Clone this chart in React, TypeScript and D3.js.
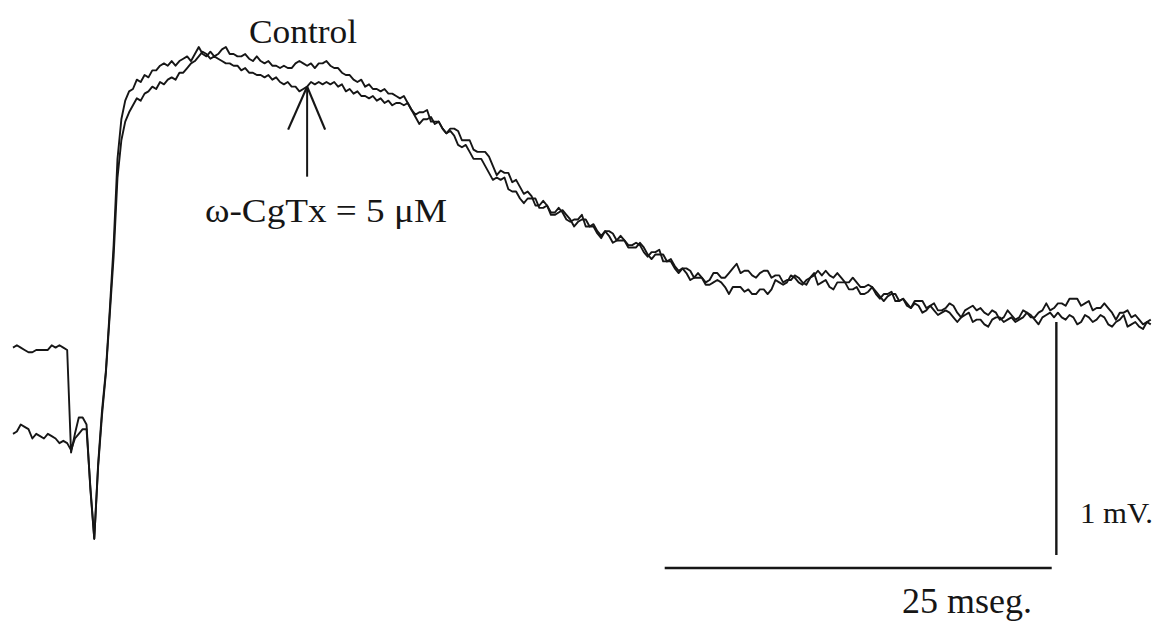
import React from "react";
import * as d3 from "d3";

// Sampling interval of the recorded traces (ms)
const SAMPLE_MS = 0.25;

// Control trace (mV), one value every SAMPLE_MS
const controlMV = [
  0.89,0.90,0.89,0.88,0.87,0.87,0.88,0.88,0.88,0.88,
  0.90,0.89,0.90,0.89,0.88,0.44,0.52,0.59,0.59,0.56,
  0.28,0.07,0.39,0.62,0.79,1.05,1.33,1.70,1.87,1.95,
  1.99,2.00,2.04,2.03,2.06,2.05,2.08,2.08,2.10,2.11,
  2.10,2.12,2.10,2.12,2.13,2.14,2.12,2.15,2.18,2.15,
  2.14,2.16,2.14,2.15,2.17,2.18,2.15,2.15,2.14,2.14,
  2.15,2.13,2.12,2.14,2.12,2.11,2.12,2.10,2.10,2.09,
  2.10,2.09,2.09,2.11,2.12,2.11,2.10,2.11,2.09,2.11,
  2.11,2.12,2.10,2.09,2.09,2.07,2.06,2.06,2.04,2.03,
  2.04,2.01,2.02,2.00,2.00,1.99,2.00,1.98,1.98,1.97,
  1.96,1.97,1.94,1.91,1.89,1.90,1.90,1.91,1.86,1.86,
  1.86,1.83,1.81,1.83,1.83,1.82,1.78,1.78,1.78,1.74,
  1.73,1.73,1.73,1.71,1.67,1.63,1.65,1.64,1.64,1.60,
  1.61,1.58,1.55,1.56,1.54,1.50,1.50,1.52,1.50,1.47,
  1.47,1.49,1.47,1.44,1.43,1.44,1.44,1.46,1.41,1.41,
  1.41,1.38,1.36,1.39,1.39,1.38,1.35,1.35,1.35,1.32,
  1.32,1.32,1.34,1.32,1.29,1.27,1.29,1.29,1.29,1.26,
  1.27,1.24,1.22,1.23,1.21,1.18,1.19,1.21,1.19,1.17,
  1.18,1.21,1.21,1.19,1.19,1.21,1.23,1.25,1.21,1.22,
  1.22,1.20,1.19,1.21,1.22,1.22,1.19,1.20,1.20,1.17,
  1.18,1.18,1.20,1.19,1.17,1.16,1.19,1.20,1.22,1.20,
  1.22,1.20,1.19,1.21,1.19,1.17,1.17,1.19,1.17,1.15,
  1.15,1.16,1.15,1.12,1.10,1.12,1.12,1.13,1.09,1.09,
  1.10,1.07,1.06,1.09,1.09,1.09,1.06,1.07,1.08,1.05,
  1.05,1.06,1.08,1.07,1.04,1.02,1.05,1.06,1.07,1.05,
  1.06,1.04,1.03,1.05,1.04,1.01,1.02,1.05,1.03,1.01,
  1.02,1.05,1.04,1.02,1.02,1.04,1.05,1.08,1.05,1.06,
  1.08,1.08,1.07,1.10,1.10,1.10,1.07,1.08,1.09,1.05,
  1.06,1.06,1.08,1.06,1.04,1.01,1.04,1.04,1.05,1.02,
  1.03,1.01,0.99,1.00,0.99,
];

// ω-CgTx = 5 µM trace (mV)
const toxinMV = [
  0.52,0.53,0.56,0.55,0.54,0.50,0.52,0.51,0.50,0.52,
  0.51,0.50,0.48,0.49,0.48,0.45,0.50,0.52,0.54,0.54,
  0.29,0.07,0.38,0.60,0.78,1.03,1.28,1.62,1.78,1.86,
  1.90,1.93,1.96,1.95,1.98,1.99,2.01,2.00,2.03,2.02,
  2.04,2.05,2.04,2.07,2.07,2.09,2.11,2.12,2.14,2.16,
  2.15,2.13,2.14,2.13,2.12,2.11,2.11,2.10,2.10,2.08,
  2.09,2.07,2.07,2.06,2.06,2.05,2.06,2.04,2.05,2.03,
  2.02,2.03,2.01,2.01,1.99,2.00,2.01,2.03,2.02,2.03,
  2.02,2.03,2.02,2.03,2.01,2.02,1.99,2.00,1.98,1.99,
  1.97,1.97,1.96,1.97,1.95,1.96,1.94,1.95,1.93,1.94,
  1.94,1.93,1.94,1.91,1.88,1.85,1.87,1.87,1.88,1.85,
  1.86,1.83,1.81,1.82,1.80,1.76,1.75,1.76,1.73,1.70,
  1.70,1.70,1.67,1.64,1.61,1.62,1.61,1.62,1.57,1.56,
  1.56,1.53,1.51,1.53,1.53,1.53,1.49,1.49,1.50,1.46,
  1.46,1.47,1.48,1.46,1.44,1.41,1.43,1.44,1.44,1.41,
  1.42,1.39,1.37,1.39,1.37,1.34,1.35,1.37,1.35,1.33,
  1.33,1.34,1.33,1.30,1.28,1.30,1.30,1.31,1.26,1.26,
  1.26,1.23,1.21,1.23,1.23,1.22,1.19,1.19,1.19,1.16,
  1.16,1.17,1.18,1.17,1.15,1.12,1.15,1.15,1.15,1.13,
  1.14,1.12,1.12,1.14,1.14,1.12,1.14,1.18,1.17,1.16,
  1.17,1.20,1.19,1.17,1.16,1.18,1.19,1.21,1.16,1.17,
  1.18,1.15,1.14,1.17,1.17,1.17,1.14,1.14,1.15,1.12,
  1.12,1.13,1.15,1.13,1.11,1.09,1.11,1.12,1.12,1.09,
  1.10,1.08,1.06,1.08,1.07,1.04,1.05,1.07,1.05,1.03,
  1.04,1.05,1.04,1.02,1.00,1.02,1.03,1.04,1.00,1.01,
  1.01,0.99,0.98,1.01,1.02,1.02,1.00,1.01,1.02,1.00,
  1.01,1.02,1.04,1.03,1.01,0.99,1.02,1.03,1.04,1.02,
  1.04,1.02,1.01,1.03,1.02,0.99,1.00,1.03,1.02,1.00,
  1.01,1.03,1.02,0.99,0.98,1.00,1.01,1.03,0.98,0.99,
  1.00,0.98,0.97,1.00,1.01,
];

// Scale bars
const TIME_BAR_MS = 25;
const TIME_BAR_START_MS = 42.1;
const VOLT_BAR_MV = 1;
const VOLT_BAR_AT_MS = 67.4;
const LABEL_CONTROL = "Control";
const LABEL_TOXIN = "ω-CgTx = 5 μM";
const LABEL_VOLT = "1 mV.";
const LABEL_TIME = "25 mseg.";
// Arrow target on the toxin trace
const ARROW_MS = 19.0;
const ARROW_MV = 2.01;

const W = 1157;
const H = 623;

export default function App() {
  const x = d3.scaleLinear().domain([0, 25]).range([13, 13 + 387]);
  const y = d3.scaleLinear().domain([0, 1]).range([555, 322]);

  const line = d3
    .line<number>()
    .x((_, i) => x(i * SAMPLE_MS))
    .y((v) => y(v));

  const font = "'Liberation Serif', 'Times New Roman', serif";
  const ink = "#161616";

  const ax = x(ARROW_MS);
  const ay = y(ARROW_MV);

  return (
    <svg
      width={W}
      height={H}
      style={{ position: "absolute", left: 0, top: 0, background: "#fff" }}
    >
      <rect width={W} height={H} fill="#fff" />
      <path d={line(controlMV) || ""} fill="none" stroke={ink} strokeWidth={1.9} strokeLinejoin="round" />
      <path d={line(toxinMV) || ""} fill="none" stroke={ink} strokeWidth={1.9} strokeLinejoin="round" />

      {/* Arrow */}
      <line x1={ax} y1={ay} x2={ax} y2={ay + 90} stroke={ink} strokeWidth={2} />
      <line x1={ax} y1={ay} x2={ax - 19} y2={ay + 43} stroke={ink} strokeWidth={2.2} />
      <line x1={ax} y1={ay} x2={ax + 18} y2={ay + 43} stroke={ink} strokeWidth={2.2} />

      {/* Scale bars */}
      <line
        x1={x(VOLT_BAR_AT_MS)}
        x2={x(VOLT_BAR_AT_MS)}
        y1={y(0)}
        y2={y(VOLT_BAR_MV)}
        stroke={ink}
        strokeWidth={2.4}
      />
      <line
        x1={x(TIME_BAR_START_MS)}
        x2={x(TIME_BAR_START_MS + TIME_BAR_MS)}
        y1={y(0) + 13}
        y2={y(0) + 13}
        stroke={ink}
        strokeWidth={2.4}
      />

      {/* Labels */}
      <text x={249} y={43} fontFamily={font} fontSize={33} fill={ink} textLength={108} lengthAdjust="spacingAndGlyphs">
        {LABEL_CONTROL}
      </text>
      <text x={205} y={222} fontFamily={font} fontSize={34} fill={ink} textLength={242} lengthAdjust="spacingAndGlyphs">
        {LABEL_TOXIN}
      </text>
      <text x={1080} y={523} fontFamily={font} fontSize={30} fill={ink} textLength={73} lengthAdjust="spacingAndGlyphs">
        {LABEL_VOLT}
      </text>
      <text x={902} y={613} fontFamily={font} fontSize={35} fill={ink} textLength={130} lengthAdjust="spacingAndGlyphs">
        {LABEL_TIME}
      </text>
    </svg>
  );
}
